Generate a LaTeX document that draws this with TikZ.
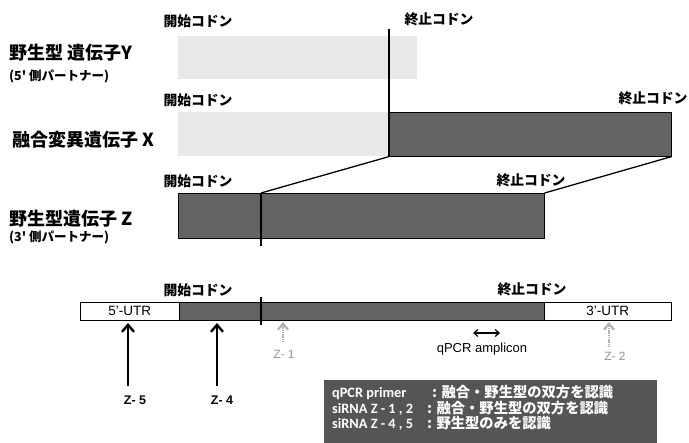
\documentclass[tikz,border=0pt]{standalone}
\usepackage{fontspec}
\setmainfont{Liberation Sans}
\newfontfamily\jp{Noto Sans CJK JP}
\newfontfamily\legfont{Carlito}
\usetikzlibrary{arrows.meta}
\definecolor{darkfill}{HTML}{636363}
\definecolor{lightfill}{HTML}{E8E8E8}
\definecolor{legfill}{HTML}{555555}
\tikzset{
  lightbox/.style={fill=lightfill, draw=none, anchor=north west, inner sep=0pt},
  darkbox/.style={fill=darkfill, draw=black, line width=0.6pt, anchor=north west, inner sep=0pt},
  utrbox/.style={fill=white, draw=black, line width=0.6pt, anchor=north west, inner sep=0pt, font=\fontsize{13.5}{15}\selectfont},
  codon/.style={font=\jp\bfseries\fontsize{13.8}{15}\selectfont, inner sep=0pt},
  genelabel/.style={font=\jp\bfseries\fontsize{18}{20}\selectfont, anchor=west, inner sep=0pt},
  sublabel/.style={font=\jp\bfseries\fontsize{12.5}{14}\selectfont, anchor=west, inner sep=0pt},
  junction/.style={line width=1.3pt, black},
  sirna/.style={line width=2.4pt, -{Straight Barb[length=7pt,width=12pt,line width=2.4pt]}},
  sirnagray/.style={line width=2.2pt, gray!60, dash pattern=on 1.2pt off 0.6pt, -{Straight Barb[length=6pt,width=10pt,line width=2.2pt]}},
  zlabel/.style={font=\bfseries\fontsize{12.5}{14}\selectfont, inner sep=0pt},
  zgray/.style={font=\fontsize{12}{14}\selectfont, text=gray!85, inner sep=0pt},
}
\begin{document}
\begin{tikzpicture}[x=1pt,y=-1pt]
\useasboundingbox (0,0) rectangle (689,443);
% gene Y
\node[lightbox, minimum width=239, minimum height=43] (Y) at (178,36) {};
% gene X
\node[lightbox, minimum width=211, minimum height=44] (Xa) at (178,112) {};
\node[darkbox, minimum width=282, minimum height=44] (Xb) at (389,112) {};
% gene Z
\node[darkbox, minimum width=366, minimum height=45] (Z) at (178,193) {};
% junction lines
\coordinate (jtop) at (389,29);
\coordinate (zcut) at (261,193);
\coordinate (zcutb) at (261,246);
\draw[junction] (jtop) -- (Xb.south west);
\draw[junction] (zcut) -- (zcutb);
\draw[junction] (zcut) -- (Xb.south west);
\draw[junction] (Z.north east) -- (Xb.south east);
% codon labels
\node[codon] (sY) at (198,21) {開始コドン};
\node[codon] (eY) at (439,19) {終止コドン};
\node[codon] (sX) at (198,100) {開始コドン};
\node[codon] (eX) at (653,98) {終止コドン};
\node[codon] (sZ) at (198,181) {開始コドン};
\node[codon] (eZ) at (531,180) {終止コドン};
% left labels
\node[genelabel] (lY) at (9,53) {野生型 遺伝子Y};
\node[sublabel] (lY2) at (9,76) {(5' 側パートナー)};
\node[genelabel] (lX) at (12,140) {融合変異遺伝子 X};
\node[genelabel] (lZ) at (9,219) {野生型遺伝子 Z};
\node[sublabel] (lZ2) at (9,237) {(3' 側パートナー)};
% mRNA bar
\node[utrbox, minimum width=99, minimum height=18] (u5) at (80,302) {5'-UTR};
\node[darkbox, minimum width=365, minimum height=18] (cds) at (179,302) {};
\node[utrbox, minimum width=127, minimum height=18] (u3) at (544,302) {3'-UTR};
\coordinate (bcut) at (261,297);
\coordinate (bcutb) at (261,325);
\draw[junction] (bcut) -- (bcutb);
\node[codon] (sB) at (198,290) {開始コドン};
\node[codon] (eB) at (532,289) {終止コドン};
% siRNA arrows
\node[zlabel] (z5) at (135,400) {Z- 5};
\node[zlabel] (z4) at (222,400) {Z- 4};
\coordinate (z5t) at (128,323);
\coordinate (z4t) at (217,323);
\coordinate (z5b) at (128,386);
\coordinate (z4b) at (217,386);
\draw[sirna] (z5b) -- (z5t);
\draw[sirna] (z4b) -- (z4t);
\node[zgray] (z1) at (284,354) {Z- 1};
\node[zgray] (z2) at (615,356) {Z- 2};
\coordinate (z1t) at (283,322);
\coordinate (z2t) at (609,322);
\coordinate (z1b) at (283,342);
\coordinate (z2b) at (609,347);
\draw[sirnagray] (z1b) -- (z1t);
\draw[sirnagray] (z2b) -- (z2t);
% qPCR amplicon
\coordinate (qa) at (473,333);
\coordinate (qb) at (500,333);
\draw[line width=1.2pt, {Straight Barb[length=4pt,width=7pt]}-{Straight Barb[length=4pt,width=7pt]}] (qa) -- (qb);
\node[font=\fontsize{13}{15}\selectfont, inner sep=0pt] (ql) at (482,349) {qPCR amplicon};
% legend
\node[fill=legfill, draw=none, anchor=north west, minimum width=333, minimum height=66, inner sep=0pt] (leg) at (324,380) {};
\node[anchor=north west, inner sep=0pt, text=white, font=\bfseries\fontsize{14.3}{16.5}\selectfont] (legt) at (332,385) {%
\begin{tabular}{@{}p{95pt}@{}l@{}}
\legfont qPCR primer & {\jp\hspace{5pt}: 融合・野生型の双方を認識}\\[-1.5pt]
\legfont siRNA Z - 1 , 2 & {\jp : 融合・野生型の双方を認識}\\[-1.5pt]
\legfont siRNA Z - 4 , 5 & {\jp : 野生型のみを認識}
\end{tabular}};
\end{tikzpicture}
\end{document}
